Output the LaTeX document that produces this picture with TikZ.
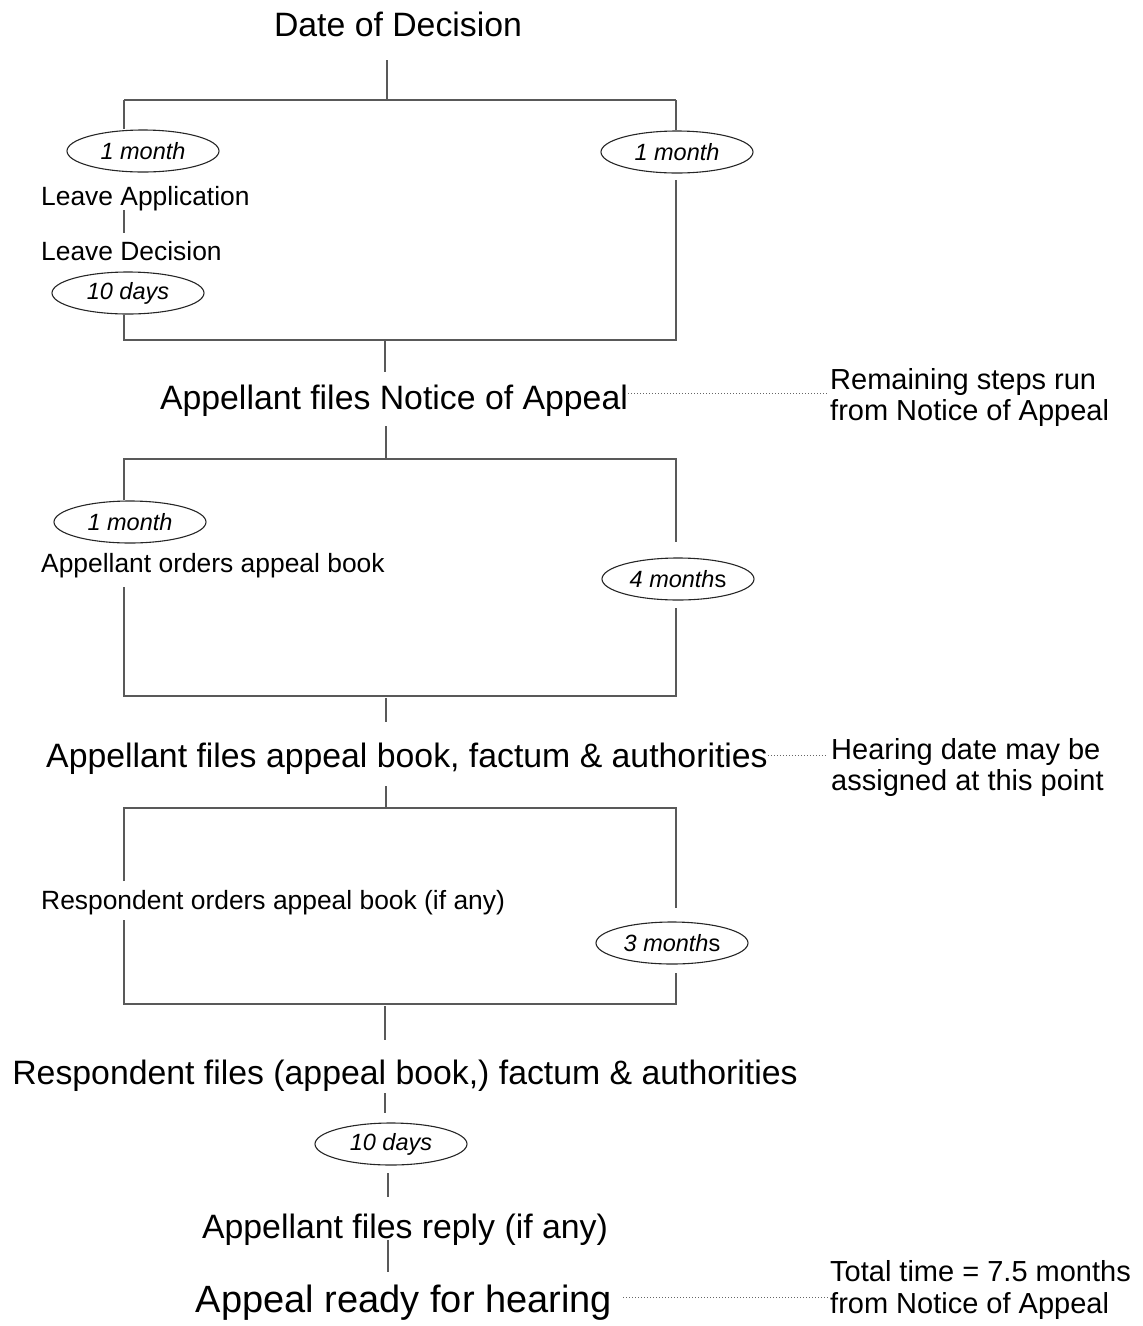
\documentclass[tikz,border=0pt]{standalone}
\usepackage{fontspec}
\setmainfont{Liberation Sans}
\usetikzlibrary{shapes.geometric}
\tikzset{
  ln/.style={draw=black!65, line width=1.3pt},
  dots/.style={draw=black!60, line width=1pt, dotted},
  big/.style={font=\fontsize{33.8}{40}\selectfont, inner sep=0pt, anchor=base},
  bigger/.style={font=\fontsize{38}{44}\selectfont, inner sep=0pt, anchor=base},
  small/.style={font=\fontsize{26.4}{30}\selectfont, inner sep=0pt, anchor=base west},
  note/.style={font=\fontsize{29}{32}\selectfont, inner sep=0pt, anchor=base west},
  oval/.style={ellipse, draw=black!85, line width=1.1pt, minimum width=152pt,
    minimum height=42pt, inner sep=0pt, font=\fontsize{23.5}{26}\selectfont\itshape},
}
\begin{document}
\begin{tikzpicture}[x=1pt,y=-1pt]
\useasboundingbox (0,0) rectangle (1143,1326);

% ---------- bracket 1 ----------
\node[big] (t0) at (398,36) {Date of Decision};
\coordinate (a0) at (387,60);
\coordinate (j0) at (387,100);
\coordinate (L0) at (124,100);
\coordinate (R0) at (676,100);
\draw[ln] (a0) -- (j0);
\draw[ln] (L0) -- (R0);
\node[oval] (e1) at (143,151) {1 month};
\node[oval] (e2) at (677,152) {1 month};
\draw[ln] (L0) -- (L0 |- e1.north);
\draw[ln] (R0) -- (R0 |- e2.north);
\node[small] (la) at (41,205) {Leave Application};
\node[small] (ld) at (41,260) {Leave Decision};
\coordinate (lm1) at (124,210);
\coordinate (lm2) at (124,233);
\draw[ln] (lm1) -- (lm2);
\node[oval] (e3) at (128,293) {10 days};
\coordinate (L1) at (124,340);
\coordinate (R1) at (676,340);
\coordinate (r1) at (676,180);
\draw[ln] (e3.south -| L1) -- (L1) -- (R1) -- (r1);
\coordinate (j1) at (385,340);
\coordinate (a1) at (385,372);
\draw[ln] (j1) -- (a1);

% ---------- notice of appeal ----------
\node[big] (na) at (394,409) {Appellant files Notice of Appeal};
\coordinate (d1) at (828,393);
\draw[dots] (na.east |- d1) -- (d1);
\node[note] (n1a) at (830,389) {Remaining steps run};
\node[note] (n1b) at (830,420) {from Notice of Appeal};

% ---------- bracket 2 ----------
\coordinate (a2) at (386,426);
\coordinate (j2) at (386,459);
\coordinate (L2) at (124,459);
\coordinate (R2) at (676,459);
\draw[ln] (a2) -- (j2);
\node[oval] (e4) at (130,522) {1 month};
\node[oval] (e5) at (678,579) {4 month\upshape s};
\coordinate (r2a) at (676,542);
\coordinate (r2b) at (676,608);
\draw[ln] (L2 |- e4.north) -- (L2) -- (R2) -- (r2a);
\node[small] (ao) at (41,572) {Appellant orders appeal book};
\coordinate (l2b) at (124,587);
\coordinate (L3) at (124,696);
\coordinate (R3) at (676,696);
\draw[ln] (l2b) -- (L3) -- (R3) -- (r2b);
\coordinate (a3) at (386,698);
\coordinate (b3) at (386,722);
\draw[ln] (a3) -- (b3);

% ---------- appellant files appeal book ----------
\node[big] (af) at (407,767) {Appellant files appeal book, factum \& authorities};
\coordinate (d2) at (826,755);
\draw[dots] (af.east |- d2) -- (d2);
\node[note] (n2a) at (831,759) {Hearing date may be};
\node[note] (n2b) at (831,790) {assigned at this point};

% ---------- bracket 3 ----------
\coordinate (a4) at (386,786);
\coordinate (j4) at (386,808);
\coordinate (L4) at (124,808);
\coordinate (R4) at (676,808);
\draw[ln] (a4) -- (j4);
\coordinate (l4a) at (124,881);
\coordinate (r4a) at (676,908);
\draw[ln] (l4a) -- (L4) -- (R4) -- (r4a);
\node[small] (ro) at (41,909) {Respondent orders appeal book (if any)};
\node[oval] (e6) at (672,943) {3 month\upshape s};
\coordinate (l4b) at (124,920);
\coordinate (r4b) at (676,973);
\coordinate (L5) at (124,1004);
\coordinate (R5) at (676,1004);
\draw[ln] (l4b) -- (L5) -- (R5) -- (r4b);
\coordinate (a5) at (385,1006);
\coordinate (b5) at (385,1040);
\draw[ln] (a5) -- (b5);

% ---------- respondent files ----------
\node[big] (rf) at (405,1084) {Respondent files (appeal book,) factum \& authorities};
\coordinate (a6) at (385,1093);
\coordinate (b6) at (385,1113);
\draw[ln] (a6) -- (b6);
\node[oval] (e7) at (391,1144) {10 days};
\coordinate (a7) at (388,1173);
\coordinate (b7) at (388,1197);
\draw[ln] (a7) -- (b7);
\node[big] (rp) at (405,1238) {Appellant files reply (if any)};
\coordinate (a8) at (388,1240);
\coordinate (b8) at (388,1272);
\draw[ln] (a8) -- (b8);

% ---------- ready ----------
\node[bigger] (rd) at (404,1312) {Appeal ready for hearing};
\coordinate (d3) at (828,1297);
\draw[dots] ([xshift=11pt]rd.east |- d3) -- (d3);
\node[note] (n3a) at (830,1281) {Total time = 7.5 months};
\node[note] (n3b) at (830,1313) {from Notice of Appeal};
\end{tikzpicture}
\end{document}
